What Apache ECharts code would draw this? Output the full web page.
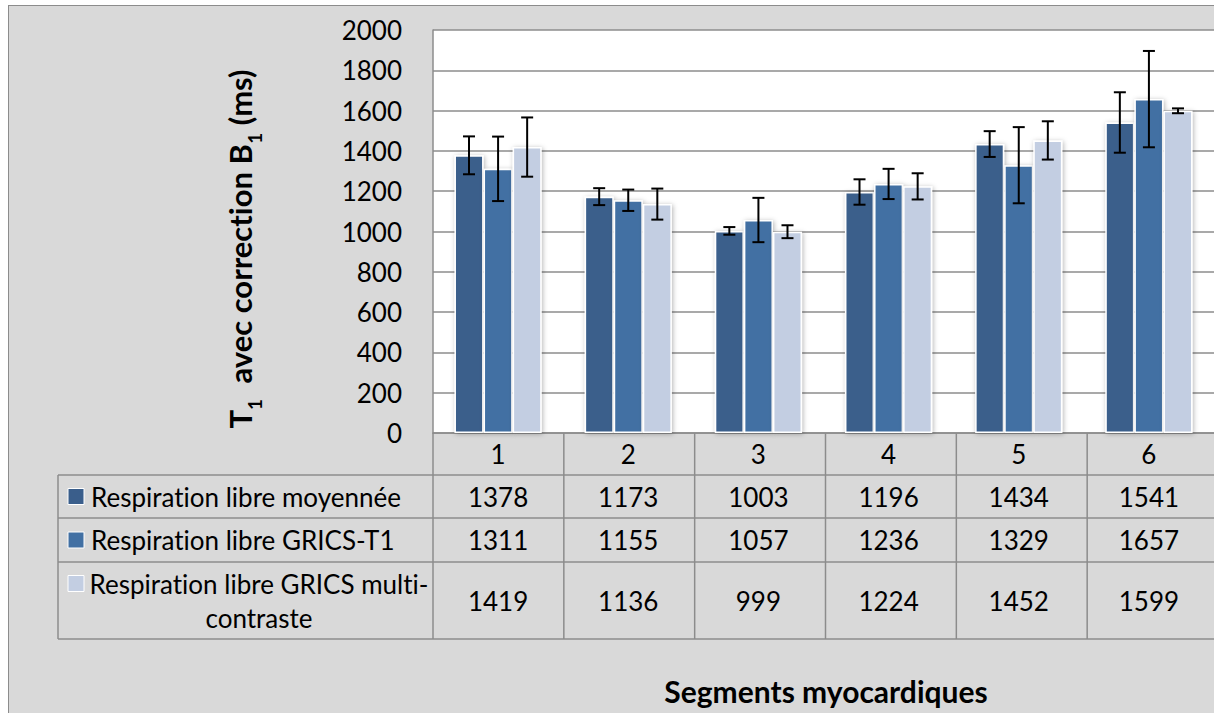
<!DOCTYPE html>
<html>
<head>
<meta charset="utf-8">
<script src="https://cdn.jsdelivr.net/npm/echarts@6/dist/echarts.min.js"></script>
<style>
  html, body { margin: 0; padding: 0; background: #ffffff; overflow: hidden; }
  #frame {
    position: absolute; left: 8px; top: 5px; width: 1300px; height: 800px;
    background: #d9d9d9; border: 1.5px solid #8c8c8c; box-sizing: border-box;
  }
  #chart { position: absolute; left: 0; top: 0; width: 1214px; height: 713px; }
  #chart text, #chart tspan { font-variant-ligatures: none !important; font-feature-settings: "liga" 0, "clig" 0 !important; }
</style>
</head>
<body>
<div id="frame"></div>
<div id="chart"></div>
<script>
// Myocardial segments (x categories)
const categories = ['1', '2', '3', '4', '5', '6'];

// Series names as shown in the data table
const seriesNames = [
  'Respiration libre moyennée',
  'Respiration libre GRICS-T1',
  'Respiration libre GRICS multi-\ncontraste'
];

// Mean T1 (ms) per segment
const moyennee    = [1378, 1173, 1003, 1196, 1434, 1541];
const gricsT1     = [1311, 1155, 1057, 1236, 1329, 1657];
const gricsMulti  = [1419, 1136,  999, 1224, 1452, 1599];

// Standard deviations (ms) drawn as error bars
const sdMoyennee   = [94, 42, 19, 63, 64, 150];
const sdGricsT1    = [160, 53, 110, 75, 189, 239];
const sdGricsMulti = [147, 77, 32, 65, 95, 12];

// Value axis range
const yMin = 0, yMax = 2000, yStep = 200;

const seriesValues = [moyennee, gricsT1, gricsMulti];
const seriesErrors = [sdMoyennee, sdGricsT1, sdGricsMulti];
const colors = ['#3a5e8b', '#4270a3', '#c3cee2'];

const FONT = 'Lato';
const LINE = '#8c8c8c';
const CAT_GAP = 0.33;
const GRID = { left: 433, top: 30, width: 785, height: 403 };

const chart = echarts.init(document.getElementById('chart'), null, { renderer: 'svg' });

const barSeries = seriesValues.map((vals, k) => ({
  name: seriesNames[k],
  type: 'bar',
  data: vals,
  barGap: '0%',
  barCategoryGap: (CAT_GAP * 100) + '%',
  itemStyle: {
    color: colors[k],
    borderColor: '#ffffff',
    borderWidth: 1.5,
    shadowBlur: 5,
    shadowColor: 'rgba(0,0,0,0.3)',
    shadowOffsetX: 1,
    shadowOffsetY: 1
  },
  z: 2
}));

const errorSeries = seriesValues.map((vals, k) => ({
  type: 'custom',
  coordinateSystem: 'cartesian2d',
  data: vals.map((v, i) => [i, v, seriesErrors[k][i]]),
  encode: { x: 0, y: 1 },
  z: 5,
  silent: true,
  renderItem: function (params, api) {
    const idx = api.value(0);
    const v = api.value(1);
    const e = api.value(2);
    const band = api.size([1, 0])[0];
    const barW = band * (1 - CAT_GAP) / 3;
    const x = api.coord([idx, v])[0] + (k - 1) * barW;
    const yTop = api.coord([idx, v + e])[1];
    const yBot = api.coord([idx, v - e])[1];
    const half = 6;
    const st = { stroke: '#000000', lineWidth: 2 };
    return {
      type: 'group',
      children: [
        { type: 'line', shape: { x1: x, y1: yTop, x2: x, y2: yBot }, style: st },
        { type: 'line', shape: { x1: x - half, y1: yTop, x2: x + half, y2: yTop }, style: st },
        { type: 'line', shape: { x1: x - half, y1: yBot, x2: x + half, y2: yBot }, style: st }
      ]
    };
  }
}));

const option = {
  animation: false,
  backgroundColor: 'transparent',
  textStyle: { fontFamily: FONT },
  legend: { show: false },
  grid: {
    left: GRID.left, top: GRID.top, width: GRID.width, height: GRID.height,
    show: true, backgroundColor: '#ffffff', borderWidth: 0
  },
  xAxis: {
    type: 'category',
    data: categories,
    axisLine: { lineStyle: { color: LINE, width: 1.5 } },
    axisTick: { show: false },
    axisLabel: { show: false },
    splitLine: { show: false }
  },
  yAxis: {
    type: 'value',
    min: yMin, max: yMax, interval: yStep,
    axisLine: { show: true, lineStyle: { color: LINE, width: 1.5 } },
    axisTick: { show: false },
    axisLabel: {
      fontSize: 26, color: '#000000', margin: 31, fontFamily: FONT,
      formatter: (v) => String(v)
    },
    splitLine: { lineStyle: { color: LINE, width: 1.5 } }
  },
  series: barSeries.concat(errorSeries)
};

chart.setOption(option);

// Data table under the plot: category header row, then one row per series
function buildTable() {
  const rowEdges = [433, 475, 518, 562, 639];
  const tableLeft = 58;
  const tableRight = 1240;
  const band = GRID.width / categories.length;
  const els = [];
  const lineStyle = { stroke: LINE, lineWidth: 1.5 };

  // horizontal rules
  for (let r = 1; r < rowEdges.length; r++) {
    els.push({ type: 'line', shape: { x1: tableLeft, y1: rowEdges[r], x2: tableRight, y2: rowEdges[r] }, style: lineStyle });
  }
  // vertical rules
  els.push({ type: 'line', shape: { x1: tableLeft, y1: rowEdges[1], x2: tableLeft, y2: rowEdges[4] }, style: lineStyle });
  for (let c = 0; c <= categories.length; c++) {
    const x = GRID.left + c * band;
    els.push({ type: 'line', shape: { x1: x, y1: rowEdges[0], x2: x, y2: rowEdges[4] }, style: lineStyle });
  }

  const txt = (x, y, text, align) => ({
    type: 'text', x: x, y: y,
    style: { text: text, fill: '#000000', fontSize: 26, fontFamily: FONT, align: align || 'center', verticalAlign: 'middle', lineHeight: 34 }
  });

  // header row with segment numbers
  categories.forEach((c) => {
    const cx = chart.convertToPixel({ xAxisIndex: 0 }, c);
    els.push(txt(cx, (rowEdges[0] + rowEdges[1]) / 2, c));
  });

  // value rows with legend keys and series names
  seriesValues.forEach((vals, k) => {
    const cy = (rowEdges[k + 1] + rowEdges[k + 2]) / 2;
    vals.forEach((v, i) => {
      const cx = chart.convertToPixel({ xAxisIndex: 0 }, categories[i]);
      els.push(txt(cx, cy, String(v)));
    });
    const multiLine = seriesNames[k].indexOf('\n') >= 0;
    const keyY = multiLine ? cy - 17 : cy;
    els.push({
      type: 'rect', shape: { x: 68, y: keyY - 8, width: 16, height: 16 },
      style: { fill: colors[k], stroke: '#ffffff', lineWidth: 1 }
    });
    if (multiLine) {
      els.push(txt(259, cy, seriesNames[k], 'center'));
    } else {
      els.push(txt(91, cy, seriesNames[k], 'left'));
    }
  });

  // axis titles
  els.push({
    type: 'text', x: 826, y: 691,
    style: { text: 'Segments myocardiques', fill: '#000000', fontSize: 30, fontWeight: 'bold', fontFamily: FONT, align: 'center', verticalAlign: 'middle' }
  });
  els.push({
    type: 'text', x: 244, y: 249, rotation: Math.PI / 2,
    style: {
      text: '{m|T}{s|1}{m|  avec correction B}{s|1}{m| (ms)}',
      align: 'center', verticalAlign: 'middle',
      rich: {
        m: { fontSize: 31, fontWeight: 'bold', fontFamily: FONT, fill: '#000000', lineHeight: 36, verticalAlign: 'top' },
        s: { fontSize: 19, fontWeight: 'bold', fontFamily: FONT, fill: '#000000', lineHeight: 40, verticalAlign: 'bottom' }
      }
    }
  });
  return els;
}

chart.setOption({ graphic: { elements: buildTable() } });
</script>
</body>
</html>
